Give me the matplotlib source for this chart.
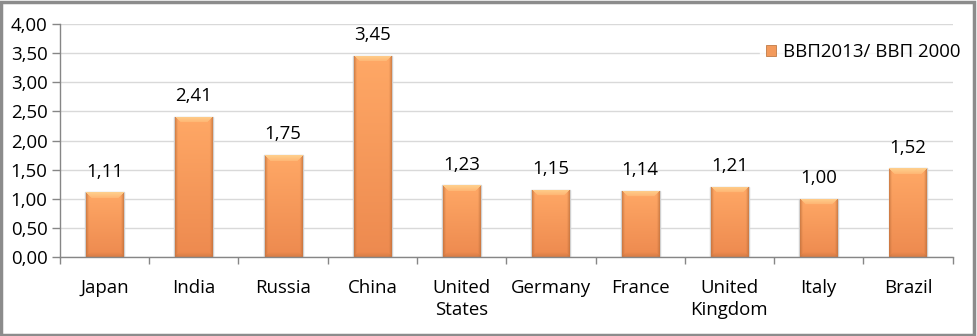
import numpy as np
import matplotlib
matplotlib.use("Agg")
import matplotlib.pyplot as plt
from matplotlib.patches import Rectangle
from matplotlib.ticker import FixedLocator, FuncFormatter

categories = ["Japan", "India", "Russia", "China", "United\nStates", "Germany",
              "France", "United\nKingdom", "Italy", "Brazil"]
values = [1.11, 2.41, 1.75, 3.45, 1.23, 1.15, 1.14, 1.21, 1.00, 1.52]
series_name = "ВВП2013/ ВВП 2000"
yticks = [0, 0.5, 1.0, 1.5, 2.0, 2.5, 3.0, 3.5, 4.0]

plt.rcParams['font.family'] = ['Open Sans', 'DejaVu Sans']
FS = 13.4

fig = plt.figure(figsize=(9.78, 3.36), dpi=100)
ax = fig.add_axes([0.0613, 0.235, 0.9127, 0.6936])

x = np.arange(len(categories))
bars = ax.bar(x, values, width=0.415, color="#F9A468", zorder=2)

ax.set_xlim(-0.5, len(categories) - 0.5)
ax.set_ylim(0, 4.0)

# bevelled gradient fill for bars (built in pixel units)
px_per_unit_y = 233.0 / 4.0
bar_px_w = 37
c_topface = np.array([1.00, 0.66, 0.40])
c_botface = np.array([0.93, 0.54, 0.31])
c_top = np.array([1.00, 0.86, 0.60])
c_side = np.array([0.72, 0.42, 0.22])
c_bot = np.array([0.78, 0.45, 0.25])
for b in bars:
    x0, w = b.get_x(), b.get_width()
    h = b.get_height()
    H = int(round(h * px_per_unit_y))
    W = bar_px_w
    yy, xx = np.mgrid[0:H, 0:W] + 0.5
    dl, dr, dt, db = xx, W - xx, yy, H - yy
    v = (yy / H)[:, :, None]
    base = c_topface * (1 - v) + c_botface * v
    img = base.copy()
    ds = np.minimum(dl, dr)
    fs = np.clip(1 - ds / 3.0, 0, 1)[:, :, None]
    img = img * (1 - 0.7 * fs) + c_side * 0.7 * fs
    bt = 6.0
    top = (dt < bt) & (dt <= ds + 0.5)
    ft = (1 - dt / bt)[:, :, None] * 0.5 + 0.3
    img = np.where(top[:, :, None], base * (1 - ft) + c_top * ft, img)
    bb = 5.0
    bot = (db < bb) & (db <= ds + 0.5)
    fb = (1 - db / bb)[:, :, None] * 0.6
    img = np.where(bot[:, :, None], img * (1 - fb) + c_bot * fb, img)
    img = np.clip(img, 0, 1)
    im = ax.imshow(img, extent=[x0, x0 + w, 0, h], aspect="auto", zorder=2,
                   interpolation="bilinear")
    im.set_clip_path(b)
    b.set_facecolor("none")
    b.set_edgecolor("#B07040")
    b.set_linewidth(0.7)
    ax.add_patch(Rectangle((x0 - 0.01, 0), w + 0.02, h, facecolor="none",
                           edgecolor="#D0D0D0", linewidth=1.0, zorder=1.9))

for xi, v in zip(x, values):
    ax.text(xi, v + 0.2, f"{v:.2f}".replace(".", ","), ha="center", va="bottom",
            fontsize=FS, color="black")

ax.yaxis.set_major_locator(FixedLocator(yticks))
ax.yaxis.set_major_formatter(FuncFormatter(lambda v, p: f"{v:.2f}".replace(".", ",")))
ax.grid(axis="y", color="#D9D9D9", linewidth=1.0, zorder=0)
ax.set_axisbelow(True)

ax.set_xticks(np.arange(-0.5, len(categories), 1.0), minor=False)
ax.set_xticklabels([])
ax.set_xticks(x, minor=True)
ax.set_xticklabels(categories, minor=True, fontsize=FS, linespacing=1.3)
ax.tick_params(axis="x", which="minor", length=0, pad=16)
ax.tick_params(axis="x", which="major", length=5, color="#868686", width=1)
ax.tick_params(axis="y", length=6, color="#868686", width=1, labelsize=FS, pad=3)

for s in ["top", "right"]:
    ax.spines[s].set_visible(False)
for s in ["left", "bottom"]:
    ax.spines[s].set_color("#868686")
    ax.spines[s].set_linewidth(1)
    ax.spines[s].set_zorder(3)

leg_handle = Rectangle((0, 0), 1, 1, facecolor="#F39A5C", edgecolor="#C07A45", linewidth=0.6)
leg = fig.legend([leg_handle], [series_name], loc="upper right",
                 bbox_to_anchor=(0.997, 0.915), frameon=True, fontsize=FS,
                 handlelength=0.55, handleheight=0.55, handletextpad=0.35,
                 borderpad=0.3, fancybox=False)
leg.get_frame().set_edgecolor("white")
leg.get_frame().set_facecolor("white")

fig.patches.append(Rectangle((0.0015, 0.004), 0.994, 0.99, transform=fig.transFigure,
                             fill=False, edgecolor="#8C8C8C", linewidth=2.5, zorder=10))

fig.savefig("out.png", dpi=100)
